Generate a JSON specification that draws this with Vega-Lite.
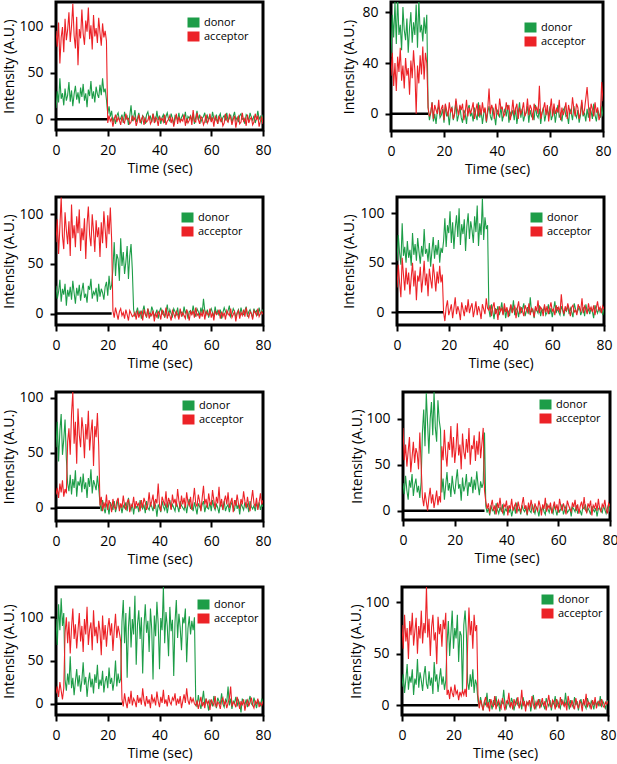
{
  "$schema": "https://vega.github.io/schema/vega-lite/v6.json",
  "padding": {"left": 0, "top": 0, "right": 0, "bottom": 0},
  "config": {
    "font": "Open Sans",
    "view": {"stroke": "black", "strokeWidth": 3},
    "axis": {"grid": false, "domain": false, "tickColor": "black", "tickWidth": 2, "tickSize": 6, "labelPadding": 7, "labelFontSize": 14, "labelColor": "black", "labelFlush": false, "titleFontSize": 14, "titleFontWeight": "normal", "titleColor": "black"},
    "axisX": {"titlePadding": 4},
    "line": {"strokeWidth": 1.1},
    "legend": {"symbolType": "M-1.2,-1H1.2V1H-1.2Z", "symbolSize": 100, "symbolOpacity": 1, "symbolStrokeWidth": 0, "labelFontSize": 11, "labelColor": "black", "rowPadding": 2, "labelOffset": 5, "padding": 0}
  },
  "datasets": {
    "p1": [
      {"t":0,"d":12,"a":95},{"t":0.5,"d":30,"a":78},{"t":1,"d":18,"a":104},{"t":1.5,"d":44,"a":60},{"t":2,"d":22,"a":88},{"t":2.5,"d":28,"a":99},{"t":3,"d":15,"a":72},{"t":3.5,"d":33,"a":108},{"t":4,"d":20,"a":85},{"t":4.5,"d":26,"a":96},
      {"t":5,"d":40,"a":115},{"t":5.5,"d":19,"a":83},{"t":6,"d":31,"a":100},{"t":6.5,"d":14,"a":124},{"t":7,"d":27,"a":90},{"t":7.5,"d":36,"a":76},{"t":8,"d":21,"a":110},{"t":8.5,"d":29,"a":58},{"t":9,"d":17,"a":97},{"t":9.5,"d":34,"a":87},
      {"t":10,"d":24,"a":118},{"t":10.5,"d":38,"a":92},{"t":11,"d":20,"a":80},{"t":11.5,"d":28,"a":106},{"t":12,"d":13,"a":94},{"t":12.5,"d":32,"a":120},{"t":13,"d":25,"a":86},{"t":13.5,"d":41,"a":101},{"t":14,"d":22,"a":75},{"t":14.5,"d":30,"a":112},
      {"t":15,"d":18,"a":89},{"t":15.5,"d":35,"a":98},{"t":16,"d":27,"a":82},{"t":16.5,"d":23,"a":109},{"t":17,"d":37,"a":93},{"t":17.5,"d":26,"a":79},{"t":18,"d":44,"a":103},{"t":18.5,"d":29,"a":88},{"t":19,"d":33,"a":95},{"t":19.5,"d":21,"a":84},
      {"t":20,"d":6,"a":-4},{"t":20.5,"d":14,"a":4},{"t":21,"d":3,"a":-2},{"t":21.5,"d":9,"a":1},{"t":22,"d":-3,"a":-8},{"t":22.5,"d":2,"a":0},{"t":23,"d":-5,"a":5},{"t":23.5,"d":4,"a":-3},{"t":24,"d":7,"a":2},{"t":24.5,"d":-1,"a":-1},
      {"t":25,"d":1,"a":-6},{"t":25.5,"d":5,"a":3},{"t":26,"d":-4,"a":-2},{"t":26.5,"d":8,"a":-4},{"t":27,"d":0,"a":6},{"t":27.5,"d":3,"a":0},{"t":28,"d":-6,"a":1},{"t":28.5,"d":4,"a":-5},{"t":29,"d":15,"a":-3},{"t":29.5,"d":-2,"a":4},
      {"t":30,"d":2,"a":-1},{"t":30.5,"d":10,"a":2},{"t":31,"d":-3,"a":-7},{"t":31.5,"d":1,"a":-2},{"t":32,"d":7,"a":5},{"t":32.5,"d":-1,"a":-4},{"t":33,"d":-4,"a":0},{"t":33.5,"d":4,"a":3},{"t":34,"d":2,"a":-6},{"t":34.5,"d":-5,"a":1},
      {"t":35,"d":5,"a":-3},{"t":35.5,"d":8,"a":-1},{"t":36,"d":0,"a":4},{"t":36.5,"d":3,"a":-5},{"t":37,"d":-3,"a":-2},{"t":37.5,"d":6,"a":6},{"t":38,"d":1,"a":-4},{"t":38.5,"d":-2,"a":2},{"t":39,"d":9,"a":0},{"t":39.5,"d":-1,"a":-7},
      {"t":40,"d":4,"a":3},{"t":40.5,"d":-5,"a":-1},{"t":41,"d":2,"a":1},{"t":41.5,"d":5,"a":-3},{"t":42,"d":-4,"a":5},{"t":42.5,"d":3,"a":-6},{"t":43,"d":7,"a":-2},{"t":43.5,"d":0,"a":0},{"t":44,"d":-2,"a":4},{"t":44.5,"d":6,"a":-4},
      {"t":45,"d":1,"a":2},{"t":45.5,"d":-6,"a":-8},{"t":46,"d":4,"a":-1},{"t":46.5,"d":3,"a":6},{"t":47,"d":-1,"a":-5},{"t":47.5,"d":7,"a":3},{"t":48,"d":-3,"a":-3},{"t":48.5,"d":2,"a":0},{"t":49,"d":5,"a":-2},{"t":49.5,"d":0,"a":5},
      {"t":50,"d":8,"a":-7},{"t":50.5,"d":-4,"a":1},{"t":51,"d":3,"a":-4},{"t":51.5,"d":1,"a":-1},{"t":52,"d":4,"a":4},{"t":52.5,"d":-2,"a":-6},{"t":53,"d":6,"a":10},{"t":53.5,"d":-5,"a":-2},{"t":54,"d":2,"a":-3},{"t":54.5,"d":9,"a":7},
      {"t":55,"d":-1,"a":0},{"t":55.5,"d":5,"a":-5},{"t":56,"d":-3,"a":3},{"t":56.5,"d":1,"a":1},{"t":57,"d":3,"a":-6},{"t":57.5,"d":7,"a":-2},{"t":58,"d":-4,"a":5},{"t":58.5,"d":4,"a":-4},{"t":59,"d":0,"a":-1},{"t":59.5,"d":2,"a":6},
      {"t":60,"d":-2,"a":-3},{"t":60.5,"d":8,"a":2},{"t":61,"d":1,"a":-8},{"t":61.5,"d":-1,"a":3},{"t":62,"d":5,"a":0},{"t":62.5,"d":-5,"a":-5},{"t":63,"d":3,"a":4},{"t":63.5,"d":6,"a":-2},{"t":64,"d":-3,"a":1},{"t":64.5,"d":2,"a":-7},
      {"t":65,"d":4,"a":-4},{"t":65.5,"d":0,"a":6},{"t":66,"d":7,"a":-1},{"t":66.5,"d":-2,"a":-3},{"t":67,"d":1,"a":5},{"t":67.5,"d":5,"a":2},{"t":68,"d":-4,"a":-6},{"t":68.5,"d":3,"a":0},{"t":69,"d":8,"a":4},{"t":69.5,"d":-1,"a":-9},
      {"t":70,"d":2,"a":-1},{"t":70.5,"d":-3,"a":3},{"t":71,"d":4,"a":-5},{"t":71.5,"d":6,"a":-3},{"t":72,"d":0,"a":7},{"t":72.5,"d":1,"a":-2},{"t":73,"d":-5,"a":1},{"t":73.5,"d":5,"a":-7},{"t":74,"d":3,"a":5},{"t":74.5,"d":-2,"a":-4},
      {"t":75,"d":7,"a":0},{"t":75.5,"d":2,"a":2},{"t":76,"d":-1,"a":-6},{"t":76.5,"d":4,"a":-3},{"t":77,"d":-4,"a":6},{"t":77.5,"d":1,"a":-1},{"t":78,"d":9,"a":4},{"t":78.5,"d":0,"a":-8},{"t":79,"d":3,"a":-2},{"t":79.5,"d":-3,"a":3},
      {"t":80,"d":5,"a":-5}
    ],
    "p2": [
      {"t":0,"d":45,"a":30},{"t":0.5,"d":78,"a":48},{"t":1,"d":60,"a":22},{"t":1.5,"d":88,"a":40},{"t":2,"d":55,"a":18},{"t":2.5,"d":92,"a":45},{"t":3,"d":62,"a":33},{"t":3.5,"d":70,"a":52},{"t":4,"d":50,"a":26},{"t":4.5,"d":84,"a":38},
      {"t":5,"d":66,"a":20},{"t":5.5,"d":58,"a":44},{"t":6,"d":75,"a":30},{"t":6.5,"d":48,"a":36},{"t":7,"d":68,"a":15},{"t":7.5,"d":80,"a":42},{"t":8,"d":56,"a":28},{"t":8.5,"d":72,"a":50},{"t":9,"d":62,"a":34},{"t":9.5,"d":86,"a":0},
      {"t":10,"d":52,"a":38},{"t":10.5,"d":90,"a":24},{"t":11,"d":64,"a":46},{"t":11.5,"d":70,"a":31},{"t":12,"d":57,"a":53},{"t":12.5,"d":76,"a":27},{"t":13,"d":63,"a":48},{"t":13.5,"d":78,"a":40},
      {"t":14,"d":5,"a":5},{"t":14.5,"d":-5,"a":-2},{"t":15,"d":1,"a":1},{"t":15.5,"d":9,"a":9},{"t":16,"d":-6,"a":-4},{"t":16.5,"d":0,"a":7},{"t":17,"d":-8,"a":3},{"t":17.5,"d":3,"a":0},{"t":18,"d":6,"a":11},{"t":18.5,"d":-3,"a":-1},
      {"t":19,"d":-1,"a":4},{"t":19.5,"d":4,"a":7},{"t":20,"d":-7,"a":-5},{"t":20.5,"d":7,"a":8},{"t":21,"d":-2,"a":3},{"t":21.5,"d":1,"a":-2},{"t":22,"d":-9,"a":9},{"t":22.5,"d":3,"a":1},{"t":23,"d":5,"a":5},{"t":23.5,"d":-5,"a":-4},
      {"t":24,"d":0,"a":0},{"t":24.5,"d":10,"a":12},{"t":25,"d":-6,"a":4},{"t":25.5,"d":-1,"a":-1},{"t":26,"d":6,"a":7},{"t":26.5,"d":-3,"a":3},{"t":27,"d":-7,"a":8},{"t":27.5,"d":3,"a":-5},{"t":28,"d":0,"a":1},{"t":28.5,"d":-8,"a":11},
      {"t":29,"d":4,"a":-2},{"t":29.5,"d":7,"a":5},{"t":30,"d":-2,"a":0},{"t":30.5,"d":1,"a":4},{"t":31,"d":-6,"a":9},{"t":31.5,"d":5,"a":-4},{"t":32,"d":-1,"a":3},{"t":32.5,"d":-5,"a":8},{"t":33,"d":9,"a":-2},{"t":33.5,"d":-3,"a":7},
      {"t":34,"d":3,"a":-1},{"t":34.5,"d":-8,"a":9},{"t":35,"d":0,"a":1},{"t":35.5,"d":4,"a":5},{"t":36,"d":-7,"a":-6},{"t":36.5,"d":1,"a":4},{"t":37,"d":6,"a":20},{"t":37.5,"d":-2,"a":0},{"t":38,"d":-5,"a":7},{"t":38.5,"d":5,"a":3},
      {"t":39,"d":-1,"a":-4},{"t":39.5,"d":-9,"a":8},{"t":40,"d":3,"a":1},{"t":40.5,"d":1,"a":-1},{"t":41,"d":-3,"a":12},{"t":41.5,"d":6,"a":4},{"t":42,"d":-6,"a":5},{"t":42.5,"d":0,"a":-2},{"t":43,"d":4,"a":0},{"t":43.5,"d":-2,"a":9},
      {"t":44,"d":7,"a":3},{"t":44.5,"d":-7,"a":7},{"t":45,"d":1,"a":-5},{"t":45.5,"d":-1,"a":1},{"t":46,"d":3,"a":11},{"t":46.5,"d":-5,"a":-1},{"t":47,"d":5,"a":4},{"t":47.5,"d":-8,"a":8},{"t":48,"d":0,"a":-4},{"t":48.5,"d":9,"a":5},
      {"t":49,"d":-3,"a":0},{"t":49.5,"d":4,"a":3},{"t":50,"d":-6,"a":9},{"t":50.5,"d":-1,"a":-2},{"t":51,"d":1,"a":1},{"t":51.5,"d":6,"a":12},{"t":52,"d":-7,"a":-1},{"t":52.5,"d":3,"a":7},{"t":53,"d":-2,"a":4},{"t":53.5,"d":0,"a":-5},
      {"t":54,"d":-5,"a":8},{"t":54.5,"d":7,"a":3},{"t":55,"d":-1,"a":5},{"t":55.5,"d":-3,"a":0},{"t":56,"d":4,"a":22},{"t":56.5,"d":-8,"a":-4},{"t":57,"d":1,"a":1},{"t":57.5,"d":5,"a":4},{"t":58,"d":-6,"a":9},{"t":58.5,"d":0,"a":-1},
      {"t":59,"d":3,"a":7},{"t":59.5,"d":-2,"a":-6},{"t":60,"d":6,"a":3},{"t":60.5,"d":-5,"a":12},{"t":61,"d":-1,"a":-2},{"t":61.5,"d":4,"a":8},{"t":62,"d":-7,"a":0},{"t":62.5,"d":1,"a":4},{"t":63,"d":7,"a":1},{"t":63.5,"d":-3,"a":11},
      {"t":64,"d":0,"a":-5},{"t":64.5,"d":-6,"a":5},{"t":65,"d":3,"a":-1},{"t":65.5,"d":5,"a":3},{"t":66,"d":-2,"a":9},{"t":66.5,"d":-1,"a":-4},{"t":67,"d":-8,"a":7},{"t":67.5,"d":4,"a":1},{"t":68,"d":1,"a":0},{"t":68.5,"d":-5,"a":13},
      {"t":69,"d":6,"a":4},{"t":69.5,"d":0,"a":-2},{"t":70,"d":-3,"a":8},{"t":70.5,"d":3,"a":5},{"t":71,"d":-7,"a":-4},{"t":71.5,"d":-1,"a":1},{"t":72,"d":9,"a":11},{"t":72.5,"d":-2,"a":-1},{"t":73,"d":1,"a":3},{"t":73.5,"d":-6,"a":12},
      {"t":74,"d":4,"a":21},{"t":74.5,"d":-3,"a":7},{"t":75,"d":5,"a":-6},{"t":75.5,"d":2,"a":8},{"t":76,"d":-4,"a":4},{"t":76.5,"d":8,"a":-2},{"t":77,"d":-1,"a":9},{"t":77.5,"d":-6,"a":1},{"t":78,"d":3,"a":5},{"t":78.5,"d":0,"a":-5},
      {"t":79,"d":-3,"a":-1},{"t":79.5,"d":6,"a":25},{"t":80,"d":-2,"a":10}
    ],
    "p3": [
      {"t":0,"d":28,"a":72},{"t":0.5,"d":15,"a":95},{"t":1,"d":22,"a":60},{"t":1.5,"d":34,"a":88},{"t":2,"d":12,"a":117},{"t":2.5,"d":25,"a":78},{"t":3,"d":19,"a":65},{"t":3.5,"d":30,"a":102},{"t":4,"d":8,"a":84},{"t":4.5,"d":24,"a":70},
      {"t":5,"d":17,"a":93},{"t":5.5,"d":27,"a":58},{"t":6,"d":14,"a":110},{"t":6.5,"d":33,"a":76},{"t":7,"d":21,"a":89},{"t":7.5,"d":10,"a":67},{"t":8,"d":26,"a":98},{"t":8.5,"d":18,"a":81},{"t":9,"d":29,"a":105},{"t":9.5,"d":13,"a":63},
      {"t":10,"d":23,"a":86},{"t":10.5,"d":31,"a":74},{"t":11,"d":16,"a":96},{"t":11.5,"d":20,"a":55},{"t":12,"d":11,"a":90},{"t":12.5,"d":28,"a":108},{"t":13,"d":24,"a":79},{"t":13.5,"d":35,"a":68},{"t":14,"d":15,"a":100},{"t":14.5,"d":22,"a":83},
      {"t":15,"d":19,"a":62},{"t":15.5,"d":26,"a":94},{"t":16,"d":12,"a":77},{"t":16.5,"d":30,"a":87},{"t":17,"d":17,"a":57},{"t":17.5,"d":25,"a":92},{"t":18,"d":21,"a":71},{"t":18.5,"d":14,"a":103},{"t":19,"d":27,"a":85},{"t":19.5,"d":32,"a":66},
      {"t":20,"d":18,"a":99},{"t":20.5,"d":38,"a":80},{"t":21,"d":24,"a":107},{"t":21.5,"d":29,"a":75},
      {"t":22,"d":45,"a":3},{"t":22.5,"d":72,"a":-4},{"t":23,"d":38,"a":6},{"t":23.5,"d":60,"a":0},{"t":24,"d":55,"a":-6},{"t":24.5,"d":33,"a":2},{"t":25,"d":76,"a":5},{"t":25.5,"d":48,"a":-2},{"t":26,"d":62,"a":1},{"t":26.5,"d":40,"a":-5},
      {"t":27,"d":52,"a":4},{"t":27.5,"d":68,"a":-1},{"t":28,"d":35,"a":-7},{"t":28.5,"d":58,"a":3},{"t":29,"d":70,"a":0},{"t":29.5,"d":44,"a":-3},
      {"t":30,"d":4,"a":-2},{"t":30.5,"d":-3,"a":1},{"t":31,"d":1,"a":-6},{"t":31.5,"d":6,"a":3},{"t":32,"d":-2,"a":-4},{"t":32.5,"d":3,"a":0},{"t":33,"d":-5,"a":2},{"t":33.5,"d":2,"a":-7},{"t":34,"d":8,"a":4},{"t":34.5,"d":0,"a":-1},
      {"t":35,"d":-4,"a":-3},{"t":35.5,"d":5,"a":5},{"t":36,"d":1,"a":-5},{"t":36.5,"d":-2,"a":0},{"t":37,"d":7,"a":-2},{"t":37.5,"d":3,"a":3},{"t":38,"d":-3,"a":-8},{"t":38.5,"d":0,"a":1},{"t":39,"d":4,"a":-4},{"t":39.5,"d":-5,"a":2},
      {"t":40,"d":2,"a":0},{"t":40.5,"d":6,"a":-6},{"t":41,"d":-1,"a":4},{"t":41.5,"d":3,"a":-1},{"t":42,"d":-4,"a":-3},{"t":42.5,"d":1,"a":6},{"t":43,"d":9,"a":-5},{"t":43.5,"d":-2,"a":1},{"t":44,"d":4,"a":-2},{"t":44.5,"d":0,"a":-7},
      {"t":45,"d":-3,"a":3},{"t":45.5,"d":5,"a":0},{"t":46,"d":2,"a":-4},{"t":46.5,"d":-1,"a":2},{"t":47,"d":6,"a":-1},{"t":47.5,"d":-4,"a":-6},{"t":48,"d":3,"a":5},{"t":48.5,"d":1,"a":-3},{"t":49,"d":-2,"a":1},{"t":49.5,"d":7,"a":-2},
      {"t":50,"d":0,"a":-5},{"t":50.5,"d":4,"a":4},{"t":51,"d":-5,"a":0},{"t":51.5,"d":2,"a":-7},{"t":52,"d":3,"a":2},{"t":52.5,"d":-1,"a":-1},{"t":53,"d":8,"a":3},{"t":53.5,"d":1,"a":-4},{"t":54,"d":-3,"a":6},{"t":54.5,"d":5,"a":-2},
      {"t":55,"d":2,"a":0},{"t":55.5,"d":-2,"a":-5},{"t":56,"d":6,"a":1},{"t":56.5,"d":0,"a":-3},{"t":57,"d":15,"a":4},{"t":57.5,"d":3,"a":-6},{"t":58,"d":-1,"a":2},{"t":58.5,"d":4,"a":0},{"t":59,"d":-4,"a":-2},{"t":59.5,"d":2,"a":5},
      {"t":60,"d":5,"a":-4},{"t":60.5,"d":1,"a":1},{"t":61,"d":-3,"a":-7},{"t":61.5,"d":7,"a":3},{"t":62,"d":0,"a":-1},{"t":62.5,"d":3,"a":0},{"t":63,"d":-2,"a":4},{"t":63.5,"d":4,"a":-5},{"t":64,"d":-5,"a":2},{"t":64.5,"d":1,"a":-3},
      {"t":65,"d":6,"a":1},{"t":65.5,"d":2,"a":-6},{"t":66,"d":-1,"a":3},{"t":66.5,"d":3,"a":0},{"t":67,"d":8,"a":-2},{"t":67.5,"d":-3,"a":5},{"t":68,"d":0,"a":-4},{"t":68.5,"d":5,"a":-1},{"t":69,"d":2,"a":2},{"t":69.5,"d":-4,"a":-8},
      {"t":70,"d":1,"a":0},{"t":70.5,"d":4,"a":3},{"t":71,"d":-2,"a":-5},{"t":71.5,"d":6,"a":1},{"t":72,"d":0,"a":-2},{"t":72.5,"d":-1,"a":4},{"t":73,"d":3,"a":-3},{"t":73.5,"d":7,"a":6},{"t":74,"d":-3,"a":-1},{"t":74.5,"d":2,"a":-4},
      {"t":75,"d":4,"a":2},{"t":75.5,"d":0,"a":0},{"t":76,"d":-4,"a":-6},{"t":76.5,"d":5,"a":3},{"t":77,"d":1,"a":1},{"t":77.5,"d":3,"a":-2},{"t":78,"d":-2,"a":5},{"t":78.5,"d":6,"a":-3},{"t":79,"d":0,"a":0},{"t":79.5,"d":2,"a":2},
      {"t":80,"d":4,"a":-1}
    ],
    "p4": [
      {"t":0,"d":52,"a":25},{"t":0.5,"d":78,"a":48},{"t":1,"d":60,"a":30},{"t":1.5,"d":48,"a":15},{"t":2,"d":90,"a":55},{"t":2.5,"d":57,"a":38},{"t":3,"d":66,"a":22},{"t":3.5,"d":50,"a":45},{"t":4,"d":72,"a":28},{"t":4.5,"d":55,"a":40},
      {"t":5,"d":63,"a":18},{"t":5.5,"d":47,"a":35},{"t":6,"d":80,"a":50},{"t":6.5,"d":58,"a":26},{"t":7,"d":69,"a":42},{"t":7.5,"d":52,"a":12},{"t":8,"d":75,"a":37},{"t":8.5,"d":61,"a":31},{"t":9,"d":49,"a":46},{"t":9.5,"d":67,"a":20},
      {"t":10,"d":56,"a":34},{"t":10.5,"d":84,"a":52},{"t":11,"d":59,"a":27},{"t":11.5,"d":64,"a":39},{"t":12,"d":51,"a":16},{"t":12.5,"d":70,"a":44},{"t":13,"d":46,"a":33},{"t":13.5,"d":62,"a":24},{"t":14,"d":76,"a":49},{"t":14.5,"d":54,"a":36},
      {"t":15,"d":68,"a":21},{"t":15.5,"d":58,"a":41},{"t":16,"d":73,"a":29},{"t":16.5,"d":50,"a":47},{"t":17,"d":65,"a":30},{"t":17.5,"d":60,"a":38},
      {"t":18,"d":72,"a":0},{"t":18.5,"d":95,"a":-9},{"t":19,"d":66,"a":5},{"t":19.5,"d":88,"a":12},{"t":20,"d":80,"a":-3},{"t":20.5,"d":102,"a":2},{"t":21,"d":70,"a":8},{"t":21.5,"d":91,"a":-6},{"t":22,"d":64,"a":4},{"t":22.5,"d":85,"a":15},
      {"t":23,"d":98,"a":-2},{"t":23.5,"d":76,"a":6},{"t":24,"d":105,"a":1},{"t":24.5,"d":68,"a":-8},{"t":25,"d":89,"a":10},{"t":25.5,"d":79,"a":3},{"t":26,"d":94,"a":-4},{"t":26.5,"d":62,"a":7},{"t":27,"d":87,"a":0},{"t":27.5,"d":100,"a":13},
      {"t":28,"d":74,"a":-1},{"t":28.5,"d":92,"a":5},{"t":29,"d":83,"a":9},{"t":29.5,"d":70,"a":-5},{"t":30,"d":97,"a":2},{"t":30.5,"d":81,"a":11},{"t":31,"d":108,"a":-3},{"t":31.5,"d":67,"a":6},{"t":32,"d":90,"a":1},{"t":32.5,"d":78,"a":-7},
      {"t":33,"d":115,"a":8},{"t":33.5,"d":73,"a":3},{"t":34,"d":96,"a":-2},{"t":34.5,"d":84,"a":14},{"t":35,"d":88,"a":4},
      {"t":35.5,"d":3,"a":2},{"t":36,"d":-5,"a":7},{"t":36.5,"d":8,"a":-4},{"t":37,"d":1,"a":5},{"t":37.5,"d":-7,"a":10},{"t":38,"d":4,"a":-2},{"t":38.5,"d":0,"a":3},{"t":39,"d":6,"a":-8},{"t":39.5,"d":-3,"a":6},{"t":40,"d":2,"a":1},
      {"t":40.5,"d":10,"a":4},{"t":41,"d":-2,"a":-3},{"t":41.5,"d":5,"a":9},{"t":42,"d":-6,"a":0},{"t":42.5,"d":3,"a":5},{"t":43,"d":1,"a":-5},{"t":43.5,"d":-4,"a":2},{"t":44,"d":7,"a":8},{"t":44.5,"d":0,"a":-1},{"t":45,"d":12,"a":3},
      {"t":45.5,"d":-3,"a":6},{"t":46,"d":4,"a":-6},{"t":46.5,"d":2,"a":4},{"t":47,"d":-5,"a":11},{"t":47.5,"d":6,"a":-2},{"t":48,"d":-1,"a":5},{"t":48.5,"d":3,"a":1},{"t":49,"d":9,"a":-4},{"t":49.5,"d":-4,"a":7},{"t":50,"d":1,"a":3},
      {"t":50.5,"d":5,"a":0},{"t":51,"d":-2,"a":9},{"t":51.5,"d":15,"a":-3},{"t":52,"d":0,"a":4},{"t":52.5,"d":3,"a":2},{"t":53,"d":-6,"a":-5},{"t":53.5,"d":4,"a":6},{"t":54,"d":2,"a":1},{"t":54.5,"d":-1,"a":12},{"t":55,"d":7,"a":-1},
      {"t":55.5,"d":-4,"a":5},{"t":56,"d":3,"a":3},{"t":56.5,"d":1,"a":-4},{"t":57,"d":6,"a":8},{"t":57.5,"d":-3,"a":0},{"t":58,"d":0,"a":6},{"t":58.5,"d":8,"a":-2},{"t":59,"d":-2,"a":4},{"t":59.5,"d":4,"a":10},{"t":60,"d":-5,"a":1},
      {"t":60.5,"d":2,"a":3},{"t":61,"d":11,"a":-3},{"t":61.5,"d":-1,"a":7},{"t":62,"d":5,"a":2},{"t":62.5,"d":0,"a":5},{"t":63,"d":-3,"a":-1},{"t":63.5,"d":6,"a":18},{"t":64,"d":2,"a":4},{"t":64.5,"d":-4,"a":-2},{"t":65,"d":3,"a":6},
      {"t":65.5,"d":1,"a":1},{"t":66,"d":7,"a":9},{"t":66.5,"d":-2,"a":3},{"t":67,"d":4,"a":-4},{"t":67.5,"d":0,"a":5},{"t":68,"d":-5,"a":7},{"t":68.5,"d":9,"a":0},{"t":69,"d":3,"a":2},{"t":69.5,"d":-1,"a":-3},{"t":70,"d":2,"a":8},
      {"t":70.5,"d":6,"a":4},{"t":71,"d":-3,"a":1},{"t":71.5,"d":1,"a":14},{"t":72,"d":5,"a":-1},{"t":72.5,"d":-4,"a":6},{"t":73,"d":8,"a":3},{"t":73.5,"d":0,"a":-2},{"t":74,"d":3,"a":9},{"t":74.5,"d":-2,"a":2},{"t":75,"d":4,"a":5},
      {"t":75.5,"d":1,"a":0},{"t":76,"d":-6,"a":7},{"t":76.5,"d":7,"a":-3},{"t":77,"d":2,"a":4},{"t":77.5,"d":-1,"a":11},{"t":78,"d":5,"a":2},{"t":78.5,"d":0,"a":5},{"t":79,"d":3,"a":-1},{"t":79.5,"d":-3,"a":6},{"t":80,"d":4,"a":3}
    ],
    "p5": [
      {"t":0,"d":55,"a":12},{"t":0.5,"d":78,"a":18},{"t":1,"d":42,"a":9},{"t":1.5,"d":70,"a":22},{"t":2,"d":85,"a":14},{"t":2.5,"d":48,"a":25},{"t":3,"d":62,"a":10},{"t":3.5,"d":80,"a":17},{"t":4,"d":45,"a":13},
      {"t":4.5,"d":22,"a":60},{"t":5,"d":15,"a":72},{"t":5.5,"d":30,"a":48},{"t":6,"d":12,"a":85},{"t":6.5,"d":26,"a":105},{"t":7,"d":18,"a":58},{"t":7.5,"d":34,"a":78},{"t":8,"d":10,"a":40},{"t":8.5,"d":24,"a":90},{"t":9,"d":20,"a":66},
      {"t":9.5,"d":28,"a":55},{"t":10,"d":14,"a":82},{"t":10.5,"d":31,"a":70},{"t":11,"d":17,"a":45},{"t":11.5,"d":23,"a":76},{"t":12,"d":9,"a":62},{"t":12.5,"d":27,"a":88},{"t":13,"d":19,"a":52},{"t":13.5,"d":35,"a":68},{"t":14,"d":13,"a":80},
      {"t":14.5,"d":25,"a":38},{"t":15,"d":21,"a":74},{"t":15.5,"d":16,"a":64},{"t":16,"d":29,"a":86},{"t":16.5,"d":18,"a":57},
      {"t":17,"d":4,"a":2},{"t":17.5,"d":-3,"a":10},{"t":18,"d":7,"a":-3},{"t":18.5,"d":0,"a":5},{"t":19,"d":-5,"a":0},{"t":19.5,"d":3,"a":12},{"t":20,"d":1,"a":-2},{"t":20.5,"d":-6,"a":7},{"t":21,"d":5,"a":3},{"t":21.5,"d":2,"a":-4},
      {"t":22,"d":-2,"a":8},{"t":22.5,"d":6,"a":1},{"t":23,"d":-4,"a":-1},{"t":23.5,"d":1,"a":6},{"t":24,"d":8,"a":9},{"t":24.5,"d":-1,"a":-3},{"t":25,"d":3,"a":4},{"t":25.5,"d":-5,"a":0},{"t":26,"d":2,"a":11},{"t":26.5,"d":0,"a":2},
      {"t":27,"d":5,"a":-2},{"t":27.5,"d":-3,"a":5},{"t":28,"d":9,"a":8},{"t":28.5,"d":1,"a":-4},{"t":29,"d":-2,"a":3},{"t":29.5,"d":4,"a":1},{"t":30,"d":-6,"a":10},{"t":30.5,"d":3,"a":-1},{"t":31,"d":0,"a":6},{"t":31.5,"d":2,"a":2},
      {"t":32,"d":-4,"a":4},{"t":32.5,"d":7,"a":-3},{"t":33,"d":1,"a":7},{"t":33.5,"d":-1,"a":0},{"t":34,"d":3,"a":9},{"t":34.5,"d":-5,"a":5},{"t":35,"d":6,"a":-2},{"t":35.5,"d":0,"a":3},{"t":36,"d":-2,"a":14},{"t":36.5,"d":4,"a":1},
      {"t":37,"d":1,"a":6},{"t":37.5,"d":-3,"a":12},{"t":38,"d":5,"a":-1},{"t":38.5,"d":2,"a":8},{"t":39,"d":-8,"a":4},{"t":39.5,"d":3,"a":22},{"t":40,"d":0,"a":3},{"t":40.5,"d":-4,"a":-3},{"t":41,"d":6,"a":10},{"t":41.5,"d":1,"a":6},
      {"t":42,"d":-2,"a":2},{"t":42.5,"d":4,"a":15},{"t":43,"d":-5,"a":0},{"t":43.5,"d":2,"a":9},{"t":44,"d":7,"a":5},{"t":44.5,"d":-1,"a":-2},{"t":45,"d":3,"a":12},{"t":45.5,"d":0,"a":4},{"t":46,"d":-3,"a":8},{"t":46.5,"d":5,"a":1},
      {"t":47,"d":1,"a":17},{"t":47.5,"d":-4,"a":6},{"t":48,"d":6,"a":-1},{"t":48.5,"d":2,"a":11},{"t":49,"d":0,"a":3},{"t":49.5,"d":-2,"a":9},{"t":50,"d":4,"a":0},{"t":50.5,"d":-5,"a":14},{"t":51,"d":3,"a":5},{"t":51.5,"d":8,"a":2},
      {"t":52,"d":-1,"a":10},{"t":52.5,"d":2,"a":-2},{"t":53,"d":-3,"a":7},{"t":53.5,"d":5,"a":18},{"t":54,"d":0,"a":4},{"t":54.5,"d":-6,"a":1},{"t":55,"d":4,"a":12},{"t":55.5,"d":1,"a":6},{"t":56,"d":-2,"a":-3},{"t":56.5,"d":3,"a":9},
      {"t":57,"d":6,"a":20},{"t":57.5,"d":-4,"a":3},{"t":58,"d":2,"a":8},{"t":58.5,"d":0,"a":0},{"t":59,"d":-1,"a":13},{"t":59.5,"d":5,"a":5},{"t":60,"d":-3,"a":2},{"t":60.5,"d":7,"a":16},{"t":61,"d":1,"a":7},{"t":61.5,"d":-2,"a":-1},
      {"t":62,"d":3,"a":10},{"t":62.5,"d":0,"a":4},{"t":63,"d":-5,"a":19},{"t":63.5,"d":4,"a":1},{"t":64,"d":2,"a":8},{"t":64.5,"d":-1,"a":-2},{"t":65,"d":6,"a":6},{"t":65.5,"d":-3,"a":11},{"t":66,"d":1,"a":3},{"t":66.5,"d":3,"a":14},
      {"t":67,"d":-4,"a":0},{"t":67.5,"d":2,"a":5},{"t":68,"d":5,"a":9},{"t":68.5,"d":0,"a":-4},{"t":69,"d":-2,"a":7},{"t":69.5,"d":7,"a":2},{"t":70,"d":-1,"a":12},{"t":70.5,"d":3,"a":4},{"t":71,"d":-6,"a":-1},{"t":71.5,"d":4,"a":8},
      {"t":72,"d":1,"a":3},{"t":72.5,"d":-2,"a":15},{"t":73,"d":5,"a":6},{"t":73.5,"d":0,"a":0},{"t":74,"d":3,"a":10},{"t":74.5,"d":-4,"a":2},{"t":75,"d":6,"a":-3},{"t":75.5,"d":1,"a":7},{"t":76,"d":-1,"a":16},{"t":76.5,"d":2,"a":4},
      {"t":77,"d":-3,"a":1},{"t":77.5,"d":4,"a":9},{"t":78,"d":0,"a":-2},{"t":78.5,"d":5,"a":5},{"t":79,"d":-2,"a":13},{"t":79.5,"d":3,"a":3},{"t":80,"d":1,"a":7}
    ],
    "p6": [
      {"t":0,"d":30,"a":90},{"t":0.5,"d":18,"a":55},{"t":1,"d":38,"a":72},{"t":1.5,"d":22,"a":48},{"t":2,"d":12,"a":65},{"t":2.5,"d":33,"a":80},{"t":3,"d":25,"a":42},{"t":3.5,"d":40,"a":58},{"t":4,"d":16,"a":75},{"t":4.5,"d":28,"a":52},
      {"t":5,"d":35,"a":68},{"t":5.5,"d":20,"a":62},{"t":6,"d":27,"a":45},{"t":6.5,"d":14,"a":85},{"t":7,"d":31,"a":50},
      {"t":7.5,"d":85,"a":15},{"t":8,"d":110,"a":5},{"t":8.5,"d":70,"a":20},{"t":9,"d":128,"a":10},{"t":9.5,"d":95,"a":0},{"t":10,"d":62,"a":14},{"t":10.5,"d":100,"a":25},{"t":11,"d":118,"a":8},{"t":11.5,"d":82,"a":18},{"t":12,"d":129,"a":3},
      {"t":12.5,"d":90,"a":12},{"t":13,"d":75,"a":22},{"t":13.5,"d":120,"a":6},{"t":14,"d":98,"a":16},{"t":14.5,"d":88,"a":9},
      {"t":15,"d":20,"a":70},{"t":15.5,"d":35,"a":55},{"t":16,"d":12,"a":88},{"t":16.5,"d":28,"a":62},{"t":17,"d":42,"a":48},{"t":17.5,"d":22,"a":75},{"t":18,"d":30,"a":66},{"t":18.5,"d":15,"a":92},{"t":19,"d":38,"a":58},{"t":19.5,"d":25,"a":80},
      {"t":20,"d":18,"a":52},{"t":20.5,"d":33,"a":68},{"t":21,"d":45,"a":95},{"t":21.5,"d":24,"a":60},{"t":22,"d":29,"a":72},{"t":22.5,"d":11,"a":45},{"t":23,"d":36,"a":84},{"t":23.5,"d":21,"a":64},{"t":24,"d":27,"a":56},{"t":24.5,"d":40,"a":78},
      {"t":25,"d":16,"a":63},{"t":25.5,"d":31,"a":90},{"t":26,"d":26,"a":50},{"t":26.5,"d":37,"a":71},{"t":27,"d":19,"a":67},{"t":27.5,"d":34,"a":82},{"t":28,"d":23,"a":54},{"t":28.5,"d":43,"a":76},{"t":29,"d":28,"a":61},{"t":29.5,"d":17,"a":86},
      {"t":30,"d":32,"a":57},{"t":30.5,"d":25,"a":73},{"t":31,"d":30,"a":90},{"t":31.5,"d":85,"a":22},
      {"t":32,"d":5,"a":10},{"t":32.5,"d":-2,"a":2},{"t":33,"d":3,"a":8},{"t":33.5,"d":-5,"a":-3},{"t":34,"d":6,"a":5},{"t":34.5,"d":0,"a":12},{"t":35,"d":2,"a":0},{"t":35.5,"d":-4,"a":6},{"t":36,"d":8,"a":-4},{"t":36.5,"d":1,"a":9},
      {"t":37,"d":-3,"a":3},{"t":37.5,"d":4,"a":14},{"t":38,"d":-1,"a":1},{"t":38.5,"d":7,"a":-2},{"t":39,"d":-5,"a":7},{"t":39.5,"d":2,"a":4},{"t":40,"d":0,"a":11},{"t":40.5,"d":5,"a":-5},{"t":41,"d":-2,"a":6},{"t":41.5,"d":3,"a":2},
      {"t":42,"d":-6,"a":13},{"t":42.5,"d":1,"a":0},{"t":43,"d":4,"a":5},{"t":43.5,"d":-3,"a":8},{"t":44,"d":9,"a":-3},{"t":44.5,"d":0,"a":10},{"t":45,"d":2,"a":3},{"t":45.5,"d":-4,"a":-1},{"t":46,"d":6,"a":7},{"t":46.5,"d":1,"a":15},
      {"t":47,"d":-1,"a":2},{"t":47.5,"d":3,"a":6},{"t":48,"d":-5,"a":-4},{"t":48.5,"d":5,"a":9},{"t":49,"d":0,"a":1},{"t":49.5,"d":-2,"a":12},{"t":50,"d":7,"a":4},{"t":50.5,"d":1,"a":-2},{"t":51,"d":-3,"a":8},{"t":51.5,"d":4,"a":3},
      {"t":52,"d":2,"a":0},{"t":52.5,"d":-6,"a":11},{"t":53,"d":3,"a":5},{"t":53.5,"d":0,"a":-5},{"t":54,"d":5,"a":7},{"t":54.5,"d":-1,"a":2},{"t":55,"d":-4,"a":14},{"t":55.5,"d":8,"a":-1},{"t":56,"d":2,"a":6},{"t":56.5,"d":-2,"a":3},
      {"t":57,"d":4,"a":9},{"t":57.5,"d":0,"a":-3},{"t":58,"d":-3,"a":4},{"t":58.5,"d":6,"a":10},{"t":59,"d":1,"a":1},{"t":59.5,"d":-5,"a":7},{"t":60,"d":3,"a":-2},{"t":60.5,"d":-1,"a":13},{"t":61,"d":2,"a":5},{"t":61.5,"d":7,"a":0},
      {"t":62,"d":-4,"a":8},{"t":62.5,"d":1,"a":3},{"t":63,"d":5,"a":-4},{"t":63.5,"d":-2,"a":11},{"t":64,"d":0,"a":6},{"t":64.5,"d":3,"a":2},{"t":65,"d":-6,"a":-1},{"t":65.5,"d":4,"a":9},{"t":66,"d":2,"a":4},{"t":66.5,"d":-1,"a":12},
      {"t":67,"d":6,"a":0},{"t":67.5,"d":-3,"a":7},{"t":68,"d":1,"a":-3},{"t":68.5,"d":0,"a":5},{"t":69,"d":-5,"a":10},{"t":69.5,"d":4,"a":2},{"t":70,"d":2,"a":15},{"t":70.5,"d":7,"a":1},{"t":71,"d":-2,"a":-2},{"t":71.5,"d":3,"a":8},
      {"t":72,"d":0,"a":4},{"t":72.5,"d":-4,"a":11},{"t":73,"d":5,"a":-5},{"t":73.5,"d":1,"a":6},{"t":74,"d":-1,"a":3},{"t":74.5,"d":3,"a":9},{"t":75,"d":-6,"a":0},{"t":75.5,"d":2,"a":13},{"t":76,"d":4,"a":2},{"t":76.5,"d":0,"a":-1},
      {"t":77,"d":-2,"a":7},{"t":77.5,"d":6,"a":4},{"t":78,"d":1,"a":12},{"t":78.5,"d":-3,"a":1},{"t":79,"d":3,"a":-3},{"t":79.5,"d":8,"a":8},{"t":80,"d":-1,"a":5}
    ],
    "p7": [
      {"t":0,"d":98,"a":12},{"t":0.5,"d":68,"a":20},{"t":1,"d":115,"a":8},{"t":1.5,"d":85,"a":25},{"t":2,"d":122,"a":15},{"t":2.5,"d":90,"a":5},{"t":3,"d":105,"a":18},
      {"t":3.5,"d":28,"a":82},{"t":4,"d":15,"a":100},{"t":4.5,"d":35,"a":70},{"t":5,"d":22,"a":95},{"t":5.5,"d":55,"a":58},{"t":6,"d":18,"a":88},{"t":6.5,"d":30,"a":110},{"t":7,"d":10,"a":75},{"t":7.5,"d":26,"a":92},{"t":8,"d":40,"a":64},
      {"t":8.5,"d":20,"a":85},{"t":9,"d":33,"a":105},{"t":9.5,"d":14,"a":72},{"t":10,"d":27,"a":90},{"t":10.5,"d":48,"a":60},{"t":11,"d":22,"a":98},{"t":11.5,"d":31,"a":80},{"t":12,"d":8,"a":112},{"t":12.5,"d":25,"a":68},{"t":13,"d":36,"a":86},
      {"t":13.5,"d":19,"a":94},{"t":14,"d":29,"a":62},{"t":14.5,"d":12,"a":108},{"t":15,"d":34,"a":78},{"t":15.5,"d":24,"a":89},{"t":16,"d":45,"a":70},{"t":16.5,"d":17,"a":96},{"t":17,"d":28,"a":84},{"t":17.5,"d":21,"a":56},{"t":18,"d":38,"a":102},
      {"t":18.5,"d":13,"a":74},{"t":19,"d":26,"a":91},{"t":19.5,"d":32,"a":66},{"t":20,"d":18,"a":87},{"t":20.5,"d":42,"a":99},{"t":21,"d":23,"a":79},{"t":21.5,"d":30,"a":93},{"t":22,"d":15,"a":61},{"t":22.5,"d":27,"a":85},{"t":23,"d":50,"a":104},
      {"t":23.5,"d":20,"a":76},{"t":24,"d":35,"a":90},{"t":24.5,"d":24,"a":82},{"t":25,"d":29,"a":72},
      {"t":25.5,"d":95,"a":5},{"t":26,"d":120,"a":-3},{"t":26.5,"d":70,"a":12},{"t":27,"d":105,"a":2},{"t":27.5,"d":30,"a":-5},{"t":28,"d":88,"a":8},{"t":28.5,"d":112,"a":0},{"t":29,"d":65,"a":15},{"t":29.5,"d":98,"a":-2},{"t":30,"d":80,"a":6},
      {"t":30.5,"d":125,"a":3},{"t":31,"d":45,"a":-4},{"t":31.5,"d":92,"a":10},{"t":32,"d":108,"a":1},{"t":32.5,"d":75,"a":7},{"t":33,"d":100,"a":-1},{"t":33.5,"d":35,"a":18},{"t":34,"d":90,"a":4},{"t":34.5,"d":115,"a":-3},{"t":35,"d":82,"a":9},
      {"t":35.5,"d":96,"a":0},{"t":36,"d":60,"a":5},{"t":36.5,"d":110,"a":-5},{"t":37,"d":86,"a":11},{"t":37.5,"d":28,"a":2},{"t":38,"d":102,"a":6},{"t":38.5,"d":78,"a":-2},{"t":39,"d":118,"a":14},{"t":39.5,"d":92,"a":3},{"t":40,"d":40,"a":-4},
      {"t":40.5,"d":99,"a":8},{"t":41,"d":85,"a":1},{"t":41.5,"d":135,"a":16},{"t":42,"d":70,"a":0},{"t":42.5,"d":106,"a":5},{"t":43,"d":90,"a":-3},{"t":43.5,"d":55,"a":10},{"t":44,"d":112,"a":2},{"t":44.5,"d":84,"a":-1},{"t":45,"d":97,"a":7},
      {"t":45.5,"d":32,"a":4},{"t":46,"d":95,"a":12},{"t":46.5,"d":120,"a":-2},{"t":47,"d":76,"a":6},{"t":47.5,"d":104,"a":0},{"t":48,"d":88,"a":9},{"t":48.5,"d":62,"a":-5},{"t":49,"d":100,"a":3},{"t":49.5,"d":93,"a":11},{"t":50,"d":110,"a":1},
      {"t":50.5,"d":48,"a":18},{"t":51,"d":87,"a":4},{"t":51.5,"d":101,"a":-1},{"t":52,"d":80,"a":8},{"t":52.5,"d":96,"a":2},{"t":53,"d":85,"a":6},{"t":53.5,"d":100,"a":0},
      {"t":54,"d":5,"a":-2},{"t":54.5,"d":-4,"a":4},{"t":55,"d":10,"a":-6},{"t":55.5,"d":1,"a":1},{"t":56,"d":-6,"a":8},{"t":56.5,"d":3,"a":-3},{"t":57,"d":15,"a":2},{"t":57.5,"d":-2,"a":-5},{"t":58,"d":6,"a":6},{"t":58.5,"d":0,"a":0},
      {"t":59,"d":-8,"a":3},{"t":59.5,"d":4,"a":-7},{"t":60,"d":2,"a":5},{"t":60.5,"d":-3,"a":1},{"t":61,"d":9,"a":-2},{"t":61.5,"d":1,"a":9},{"t":62,"d":-5,"a":-4},{"t":62.5,"d":7,"a":2},{"t":63,"d":3,"a":0},{"t":63.5,"d":-1,"a":-6},
      {"t":64,"d":12,"a":4},{"t":64.5,"d":0,"a":7},{"t":65,"d":-4,"a":-1},{"t":65.5,"d":5,"a":3},{"t":66,"d":2,"a":-5},{"t":66.5,"d":20,"a":1},{"t":67,"d":-2,"a":6},{"t":67.5,"d":6,"a":20},{"t":68,"d":-6,"a":-3},{"t":68.5,"d":3,"a":2},
      {"t":69,"d":1,"a":0},{"t":69.5,"d":8,"a":-4},{"t":70,"d":-3,"a":8},{"t":70.5,"d":4,"a":1},{"t":71,"d":0,"a":-6},{"t":71.5,"d":-10,"a":3},{"t":72,"d":6,"a":-2},{"t":72.5,"d":2,"a":5},{"t":73,"d":-1,"a":-8},{"t":73.5,"d":5,"a":0},
      {"t":74,"d":-4,"a":4},{"t":74.5,"d":3,"a":-3},{"t":75,"d":9,"a":2},{"t":75.5,"d":0,"a":7},{"t":76,"d":-2,"a":-1},{"t":76.5,"d":7,"a":-5},{"t":77,"d":1,"a":3},{"t":77.5,"d":-5,"a":0},{"t":78,"d":4,"a":6},{"t":78.5,"d":2,"a":-4},
      {"t":79,"d":-3,"a":1},{"t":79.5,"d":6,"a":-2},{"t":80,"d":0,"a":3}
    ],
    "p8": [
      {"t":0,"d":18,"a":78},{"t":0.5,"d":30,"a":55},{"t":1,"d":12,"a":88},{"t":1.5,"d":25,"a":62},{"t":2,"d":40,"a":75},{"t":2.5,"d":15,"a":45},{"t":3,"d":28,"a":82},{"t":3.5,"d":22,"a":68},{"t":4,"d":35,"a":90},{"t":4.5,"d":10,"a":58},
      {"t":5,"d":26,"a":72},{"t":5.5,"d":20,"a":85},{"t":6,"d":45,"a":50},{"t":6.5,"d":17,"a":77},{"t":7,"d":32,"a":65},{"t":7.5,"d":24,"a":92},{"t":8,"d":14,"a":60},{"t":8.5,"d":29,"a":80},{"t":9,"d":38,"a":70},{"t":9.5,"d":21,"a":115},
      {"t":10,"d":16,"a":66},{"t":10.5,"d":33,"a":84},{"t":11,"d":19,"a":48},{"t":11.5,"d":27,"a":76},{"t":12,"d":11,"a":88},{"t":12.5,"d":42,"a":63},{"t":13,"d":23,"a":71},{"t":13.5,"d":30,"a":40},{"t":14,"d":13,"a":86},{"t":14.5,"d":25,"a":69},
      {"t":15,"d":36,"a":79},{"t":15.5,"d":20,"a":57},{"t":16,"d":28,"a":83},{"t":16.5,"d":15,"a":74},{"t":17,"d":24,"a":90},
      {"t":17.5,"d":60,"a":10},{"t":18,"d":82,"a":15},{"t":18.5,"d":48,"a":6},{"t":19,"d":70,"a":18},{"t":19.5,"d":92,"a":12},{"t":20,"d":55,"a":8},{"t":20.5,"d":75,"a":20},{"t":21,"d":65,"a":11},{"t":21.5,"d":88,"a":14},{"t":22,"d":42,"a":5},
      {"t":22.5,"d":72,"a":13},{"t":23,"d":68,"a":9},{"t":23.5,"d":12,"a":14},{"t":24,"d":78,"a":10},{"t":24.5,"d":92,"a":16},{"t":25,"d":70,"a":8},
      {"t":25.5,"d":22,"a":60},{"t":26,"d":15,"a":95},{"t":26.5,"d":30,"a":68},{"t":27,"d":18,"a":82},{"t":27.5,"d":35,"a":55},{"t":28,"d":12,"a":88},{"t":28.5,"d":25,"a":72},{"t":29,"d":20,"a":78},
      {"t":29.5,"d":4,"a":10},{"t":30,"d":-2,"a":-3},{"t":30.5,"d":8,"a":5},{"t":31,"d":1,"a":0},{"t":31.5,"d":-5,"a":-5},{"t":32,"d":3,"a":4},{"t":32.5,"d":0,"a":8},{"t":33,"d":12,"a":-2},{"t":33.5,"d":-3,"a":3},{"t":34,"d":6,"a":-6},
      {"t":34.5,"d":2,"a":6},{"t":35,"d":-4,"a":1},{"t":35.5,"d":5,"a":-1},{"t":36,"d":0,"a":9},{"t":36.5,"d":9,"a":-4},{"t":37,"d":-1,"a":2},{"t":37.5,"d":3,"a":5},{"t":38,"d":-6,"a":0},{"t":38.5,"d":4,"a":-3},{"t":39,"d":2,"a":7},
      {"t":39.5,"d":15,"a":1},{"t":40,"d":0,"a":-5},{"t":40.5,"d":-3,"a":4},{"t":41,"d":5,"a":2},{"t":41.5,"d":1,"a":12},{"t":42,"d":-2,"a":-2},{"t":42.5,"d":7,"a":3},{"t":43,"d":3,"a":-4},{"t":43.5,"d":-5,"a":6},{"t":44,"d":2,"a":0},
      {"t":44.5,"d":6,"a":2},{"t":45,"d":0,"a":8},{"t":45.5,"d":-1,"a":-3},{"t":46,"d":4,"a":1},{"t":46.5,"d":-4,"a":15},{"t":47,"d":8,"a":-1},{"t":47.5,"d":2,"a":4},{"t":48,"d":-2,"a":-6},{"t":48.5,"d":3,"a":3},{"t":49,"d":1,"a":0},
      {"t":49.5,"d":5,"a":5},{"t":50,"d":-6,"a":-2},{"t":50.5,"d":2,"a":9},{"t":51,"d":10,"a":1},{"t":51.5,"d":0,"a":-4},{"t":52,"d":-3,"a":3},{"t":52.5,"d":4,"a":0},{"t":53,"d":1,"a":6},{"t":53.5,"d":6,"a":-3},{"t":54,"d":-2,"a":2},
      {"t":54.5,"d":3,"a":7},{"t":55,"d":0,"a":-1},{"t":55.5,"d":-4,"a":4},{"t":56,"d":7,"a":-5},{"t":56.5,"d":2,"a":2},{"t":57,"d":-1,"a":10},{"t":57.5,"d":5,"a":0},{"t":58,"d":-5,"a":-2},{"t":58.5,"d":3,"a":5},{"t":59,"d":1,"a":3},
      {"t":59.5,"d":9,"a":-4},{"t":60,"d":-2,"a":6},{"t":60.5,"d":4,"a":1},{"t":61,"d":0,"a":-3},{"t":61.5,"d":-3,"a":8},{"t":62,"d":6,"a":0},{"t":62.5,"d":2,"a":4},{"t":63,"d":-1,"a":-1},{"t":63.5,"d":12,"a":2},{"t":64,"d":0,"a":-5},
      {"t":64.5,"d":3,"a":9},{"t":65,"d":-4,"a":3},{"t":65.5,"d":5,"a":-2},{"t":66,"d":1,"a":5},{"t":66.5,"d":-2,"a":0},{"t":67,"d":8,"a":-4},{"t":67.5,"d":0,"a":7},{"t":68,"d":4,"a":1},{"t":68.5,"d":-5,"a":-3},{"t":69,"d":2,"a":4},
      {"t":69.5,"d":6,"a":2},{"t":70,"d":-1,"a":-6},{"t":70.5,"d":3,"a":6},{"t":71,"d":0,"a":0},{"t":71.5,"d":-3,"a":11},{"t":72,"d":7,"a":-2},{"t":72.5,"d":2,"a":3},{"t":73,"d":-2,"a":1},{"t":73.5,"d":4,"a":-4},{"t":74,"d":1,"a":5},
      {"t":74.5,"d":-4,"a":0},{"t":75,"d":5,"a":8},{"t":75.5,"d":0,"a":-3},{"t":76,"d":3,"a":2},{"t":76.5,"d":-1,"a":4},{"t":77,"d":9,"a":-1},{"t":77.5,"d":-2,"a":6},{"t":78,"d":4,"a":0},{"t":78.5,"d":1,"a":-2},{"t":79,"d":-3,"a":3},
      {"t":79.5,"d":2,"a":1},{"t":80,"d":5,"a":4}
    ]
  },
  "resolve": {"scale": {"x": "independent", "y": "independent", "color": "independent", "stroke": "independent"}, "legend": {"color": "independent"}},
  "spacing": 17,
  "vconcat": [
    {
      "spacing": 67,
      "resolve": {"scale": {"x": "independent", "y": "independent", "color": "independent", "stroke": "independent"}, "legend": {"color": "independent"}},
      "hconcat": [
        {
          "width": 207, "height": 128,
          "encoding": {
            "x": {"field": "t", "type": "quantitative", "scale": {"domain": [0, 80], "nice": false}, "axis": {"values": [0, 20, 40, 60, 80], "title": "Time (sec)"}},
            "y": {"field": "v", "type": "quantitative", "scale": {"domain": [-11.5, 126], "nice": false, "zero": false}, "axis": {"values": [0, 50, 100], "title": "Intensity (A.U.)", "titlePadding": 2.5}}
          },
          "layer": [
            {"data": {"values": [{"t": 0, "t2": 20, "v": 0}]}, "mark": {"type": "rule", "color": "black", "strokeWidth": 2.5}, "encoding": {"x2": {"field": "t2"}}},
            {"data": {"name": "p1"}, "transform": [{"fold": ["d"], "as": ["s", "v"]}], "mark": {"type": "line", "clip": true}, "encoding": {"stroke": {"field": "s", "type": "nominal", "scale": {"domain": ["d", "a"], "range": ["#1d9d48", "#ec2227"]}, "legend": null}}},
            {"data": {"name": "p1"}, "transform": [{"fold": ["a"], "as": ["s", "v"]}], "mark": {"type": "line", "clip": true}, "encoding": {"stroke": {"field": "s", "type": "nominal", "scale": {"domain": ["d", "a"], "range": ["#1d9d48", "#ec2227"]}, "legend": null}}},
            {"data": {"values": []}, "mark": {"type": "square", "opacity": 1},
             "encoding": {"color": {"field": "lg", "type": "nominal", "scale": {"domain": ["donor", "acceptor"], "range": ["#1d9d48", "#ec2227"]}, "legend": {"title": null, "orient": "none", "legendX": 132, "legendY": 15}}}}
          ]
        },
        {
          "width": 212, "height": 129,
          "encoding": {
            "x": {"field": "t", "type": "quantitative", "scale": {"domain": [0, 80], "nice": false}, "axis": {"values": [0, 20, 40, 60, 80], "title": "Time (sec)"}},
            "y": {"field": "v", "type": "quantitative", "scale": {"domain": [-13.5, 88], "nice": false, "zero": false}, "axis": {"values": [0, 40, 80], "title": "Intensity (A.U.)", "titlePadding": 5.8}}
          },
          "layer": [
            {"data": {"values": [{"t": 0, "t2": 14, "v": 0}]}, "mark": {"type": "rule", "color": "black", "strokeWidth": 2.5}, "encoding": {"x2": {"field": "t2"}}},
            {"data": {"name": "p2"}, "transform": [{"fold": ["d"], "as": ["s", "v"]}], "mark": {"type": "line", "clip": true}, "encoding": {"stroke": {"field": "s", "type": "nominal", "scale": {"domain": ["d", "a"], "range": ["#1d9d48", "#ec2227"]}, "legend": null}}},
            {"data": {"name": "p2"}, "transform": [{"fold": ["a"], "as": ["s", "v"]}], "mark": {"type": "line", "clip": true}, "encoding": {"stroke": {"field": "s", "type": "nominal", "scale": {"domain": ["d", "a"], "range": ["#1d9d48", "#ec2227"]}, "legend": null}}},
            {"data": {"values": []}, "mark": {"type": "square", "opacity": 1},
             "encoding": {"color": {"field": "lg", "type": "nominal", "scale": {"domain": ["donor", "acceptor"], "range": ["#1d9d48", "#ec2227"]}, "legend": {"title": null, "orient": "none", "legendX": 134, "legendY": 20}}}}
          ]
        }
      ]
    },
    {
      "spacing": 67,
      "resolve": {"scale": {"x": "independent", "y": "independent", "color": "independent", "stroke": "independent"}, "legend": {"color": "independent"}},
      "hconcat": [
        {
          "width": 207, "height": 128,
          "encoding": {
            "x": {"field": "t", "type": "quantitative", "scale": {"domain": [0, 80], "nice": false}, "axis": {"values": [0, 20, 40, 60, 80], "title": "Time (sec)"}},
            "y": {"field": "v", "type": "quantitative", "scale": {"domain": [-11.5, 117.5], "nice": false, "zero": false}, "axis": {"values": [0, 50, 100], "title": "Intensity (A.U.)", "titlePadding": 2.5}}
          },
          "layer": [
            {"data": {"values": [{"t": 0, "t2": 21.5, "v": 0}]}, "mark": {"type": "rule", "color": "black", "strokeWidth": 2.5}, "encoding": {"x2": {"field": "t2"}}},
            {"data": {"name": "p3"}, "transform": [{"fold": ["d"], "as": ["s", "v"]}], "mark": {"type": "line", "clip": true}, "encoding": {"stroke": {"field": "s", "type": "nominal", "scale": {"domain": ["d", "a"], "range": ["#1d9d48", "#ec2227"]}, "legend": null}}},
            {"data": {"name": "p3"}, "transform": [{"fold": ["a"], "as": ["s", "v"]}], "mark": {"type": "line", "clip": true}, "encoding": {"stroke": {"field": "s", "type": "nominal", "scale": {"domain": ["d", "a"], "range": ["#1d9d48", "#ec2227"]}, "legend": null}}},
            {"data": {"values": []}, "mark": {"type": "square", "opacity": 1},
             "encoding": {"color": {"field": "lg", "type": "nominal", "scale": {"domain": ["donor", "acceptor"], "range": ["#1d9d48", "#ec2227"]}, "legend": {"title": null, "orient": "none", "legendX": 126, "legendY": 15}}}}
          ]
        },
        {
          "width": 207, "height": 128,
          "encoding": {
            "x": {"field": "t", "type": "quantitative", "scale": {"domain": [0, 80], "nice": false}, "axis": {"values": [0, 20, 40, 60, 80], "title": "Time (sec)"}},
            "y": {"field": "v", "type": "quantitative", "scale": {"domain": [-13, 116.5], "nice": false, "zero": false}, "axis": {"values": [0, 50, 100], "title": "Intensity (A.U.)", "titlePadding": 3.5}}
          },
          "layer": [
            {"data": {"values": [{"t": 0, "t2": 18, "v": 0}]}, "mark": {"type": "rule", "color": "black", "strokeWidth": 2.5}, "encoding": {"x2": {"field": "t2"}}},
            {"data": {"name": "p4"}, "transform": [{"fold": ["d"], "as": ["s", "v"]}], "mark": {"type": "line", "clip": true}, "encoding": {"stroke": {"field": "s", "type": "nominal", "scale": {"domain": ["d", "a"], "range": ["#1d9d48", "#ec2227"]}, "legend": null}}},
            {"data": {"name": "p4"}, "transform": [{"fold": ["a"], "as": ["s", "v"]}], "mark": {"type": "line", "clip": true}, "encoding": {"stroke": {"field": "s", "type": "nominal", "scale": {"domain": ["d", "a"], "range": ["#1d9d48", "#ec2227"]}, "legend": null}}},
            {"data": {"values": []}, "mark": {"type": "square", "opacity": 1},
             "encoding": {"color": {"field": "lg", "type": "nominal", "scale": {"domain": ["donor", "acceptor"], "range": ["#1d9d48", "#ec2227"]}, "legend": {"title": null, "orient": "none", "legendX": 134, "legendY": 15}}}}
          ]
        }
      ]
    },
    {
      "spacing": 76,
      "resolve": {"scale": {"x": "independent", "y": "independent", "color": "independent", "stroke": "independent"}, "legend": {"color": "independent"}},
      "hconcat": [
        {
          "width": 207, "height": 129,
          "encoding": {
            "x": {"field": "t", "type": "quantitative", "scale": {"domain": [0, 80], "nice": false}, "axis": {"values": [0, 20, 40, 60, 80], "title": "Time (sec)"}},
            "y": {"field": "v", "type": "quantitative", "scale": {"domain": [-12, 105], "nice": false, "zero": false}, "axis": {"values": [0, 50, 100], "title": "Intensity (A.U.)", "titlePadding": 2.5}}
          },
          "layer": [
            {"data": {"values": [{"t": 0, "t2": 17, "v": 0}]}, "mark": {"type": "rule", "color": "black", "strokeWidth": 2.5}, "encoding": {"x2": {"field": "t2"}}},
            {"data": {"name": "p5"}, "transform": [{"fold": ["d"], "as": ["s", "v"]}], "mark": {"type": "line", "clip": true}, "encoding": {"stroke": {"field": "s", "type": "nominal", "scale": {"domain": ["d", "a"], "range": ["#1d9d48", "#ec2227"]}, "legend": null}}},
            {"data": {"name": "p5"}, "transform": [{"fold": ["a"], "as": ["s", "v"]}], "mark": {"type": "line", "clip": true}, "encoding": {"stroke": {"field": "s", "type": "nominal", "scale": {"domain": ["d", "a"], "range": ["#1d9d48", "#ec2227"]}, "legend": null}}},
            {"data": {"values": []}, "mark": {"type": "square", "opacity": 1},
             "encoding": {"color": {"field": "lg", "type": "nominal", "scale": {"domain": ["donor", "acceptor"], "range": ["#1d9d48", "#ec2227"]}, "legend": {"title": null, "orient": "none", "legendX": 127, "legendY": 8}}}}
          ]
        },
        {
          "width": 207, "height": 128,
          "encoding": {
            "x": {"field": "t", "type": "quantitative", "scale": {"domain": [0, 80], "nice": false}, "axis": {"values": [0, 20, 40, 60, 80], "title": "Time (sec)"}},
            "y": {"field": "v", "type": "quantitative", "scale": {"domain": [-10, 129], "nice": false, "zero": false}, "axis": {"values": [0, 50, 100], "title": "Intensity (A.U.)", "titlePadding": 1}}
          },
          "layer": [
            {"data": {"values": [{"t": 0, "t2": 31.5, "v": 0}]}, "mark": {"type": "rule", "color": "black", "strokeWidth": 2.5}, "encoding": {"x2": {"field": "t2"}}},
            {"data": {"name": "p6"}, "transform": [{"fold": ["d"], "as": ["s", "v"]}], "mark": {"type": "line", "clip": true}, "encoding": {"stroke": {"field": "s", "type": "nominal", "scale": {"domain": ["d", "a"], "range": ["#1d9d48", "#ec2227"]}, "legend": null}}},
            {"data": {"name": "p6"}, "transform": [{"fold": ["a"], "as": ["s", "v"]}], "mark": {"type": "line", "clip": true}, "encoding": {"stroke": {"field": "s", "type": "nominal", "scale": {"domain": ["d", "a"], "range": ["#1d9d48", "#ec2227"]}, "legend": null}}},
            {"data": {"values": []}, "mark": {"type": "square", "opacity": 1},
             "encoding": {"color": {"field": "lg", "type": "nominal", "scale": {"domain": ["donor", "acceptor"], "range": ["#1d9d48", "#ec2227"]}, "legend": {"title": null, "orient": "none", "legendX": 137, "legendY": 7}}}}
          ]
        }
      ]
    },
    {
      "spacing": 75,
      "resolve": {"scale": {"x": "independent", "y": "independent", "color": "independent", "stroke": "independent"}, "legend": {"color": "independent"}},
      "hconcat": [
        {
          "width": 207, "height": 128,
          "encoding": {
            "x": {"field": "t", "type": "quantitative", "scale": {"domain": [0, 80], "nice": false}, "axis": {"values": [0, 20, 40, 60, 80], "title": "Time (sec)"}},
            "y": {"field": "v", "type": "quantitative", "scale": {"domain": [-13, 135], "nice": false, "zero": false}, "axis": {"values": [0, 50, 100], "title": "Intensity (A.U.)", "titlePadding": 2.5}}
          },
          "layer": [
            {"data": {"values": [{"t": 0, "t2": 25.5, "v": 0}]}, "mark": {"type": "rule", "color": "black", "strokeWidth": 2.5}, "encoding": {"x2": {"field": "t2"}}},
            {"data": {"name": "p7"}, "transform": [{"fold": ["d"], "as": ["s", "v"]}], "mark": {"type": "line", "clip": true}, "encoding": {"stroke": {"field": "s", "type": "nominal", "scale": {"domain": ["d", "a"], "range": ["#1d9d48", "#ec2227"]}, "legend": null}}},
            {"data": {"name": "p7"}, "transform": [{"fold": ["a"], "as": ["s", "v"]}], "mark": {"type": "line", "clip": true}, "encoding": {"stroke": {"field": "s", "type": "nominal", "scale": {"domain": ["d", "a"], "range": ["#1d9d48", "#ec2227"]}, "legend": null}}},
            {"data": {"values": []}, "mark": {"type": "square", "opacity": 1},
             "encoding": {"color": {"field": "lg", "type": "nominal", "scale": {"domain": ["donor", "acceptor"], "range": ["#1d9d48", "#ec2227"]}, "legend": {"title": null, "orient": "none", "legendX": 142, "legendY": 12}}}}
          ]
        },
        {
          "width": 206, "height": 128,
          "encoding": {
            "x": {"field": "t", "type": "quantitative", "scale": {"domain": [0, 80], "nice": false}, "axis": {"values": [0, 20, 40, 60, 80], "title": "Time (sec)"}},
            "y": {"field": "v", "type": "quantitative", "scale": {"domain": [-9.5, 115], "nice": false, "zero": false}, "axis": {"values": [0, 50, 100], "title": "Intensity (A.U.)", "titlePadding": 1.2}}
          },
          "layer": [
            {"data": {"values": [{"t": 0, "t2": 29.5, "v": 0}]}, "mark": {"type": "rule", "color": "black", "strokeWidth": 2.5}, "encoding": {"x2": {"field": "t2"}}},
            {"data": {"name": "p8"}, "transform": [{"fold": ["d"], "as": ["s", "v"]}], "mark": {"type": "line", "clip": true}, "encoding": {"stroke": {"field": "s", "type": "nominal", "scale": {"domain": ["d", "a"], "range": ["#1d9d48", "#ec2227"]}, "legend": null}}},
            {"data": {"name": "p8"}, "transform": [{"fold": ["a"], "as": ["s", "v"]}], "mark": {"type": "line", "clip": true}, "encoding": {"stroke": {"field": "s", "type": "nominal", "scale": {"domain": ["d", "a"], "range": ["#1d9d48", "#ec2227"]}, "legend": null}}},
            {"data": {"values": []}, "mark": {"type": "square", "opacity": 1},
             "encoding": {"color": {"field": "lg", "type": "nominal", "scale": {"domain": ["donor", "acceptor"], "range": ["#1d9d48", "#ec2227"]}, "legend": {"title": null, "orient": "none", "legendX": 140, "legendY": 7}}}}
          ]
        }
      ]
    }
  ]
}
